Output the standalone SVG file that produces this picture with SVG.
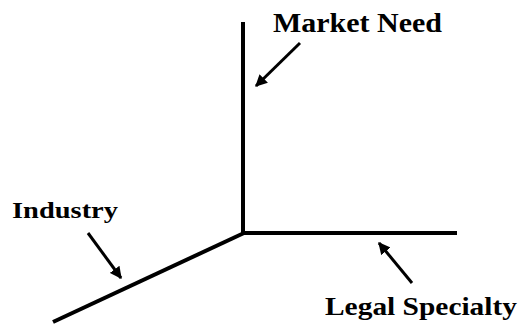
<svg xmlns="http://www.w3.org/2000/svg" width="520" height="326" viewBox="0 0 520 326">
<style>
.axis{stroke:#000;stroke-width:4;fill:none;stroke-linecap:butt}
.ptr{stroke:#000;stroke-width:3;fill:none}
.lbl{font-family:"Liberation Serif","DejaVu Serif",serif;font-weight:bold;font-size:27px;fill:#000}
</style>
<defs>
<marker id="ah" viewBox="0 0 10 10" refX="9" refY="5" markerWidth="4" markerHeight="4" orient="auto" markerUnits="strokeWidth">
<path d="M0,0 L10,5 L0,10 z" fill="#000"/>
</marker>
</defs>
<rect width="520" height="326" fill="#fff"/>
<g id="connectors">
<line class="axis" x1="243" y1="22" x2="243" y2="235"/>
<line class="axis" x1="241" y1="233" x2="457" y2="233"/>
<line class="axis" x1="244" y1="233" x2="53" y2="322"/>
<line class="ptr" x1="300" y1="43" x2="256" y2="86" marker-end="url(#ah)"/>
<line class="ptr" x1="88" y1="233" x2="121" y2="278" marker-end="url(#ah)"/>
<line class="ptr" x1="412" y1="283" x2="379" y2="243" marker-end="url(#ah)"/>
</g>
<g id="market-need"><text class="lbl" x="273" y="32" textLength="169" lengthAdjust="spacingAndGlyphs">Market Need</text></g>
<g id="industry"><text class="lbl" x="12" y="218" textLength="106" lengthAdjust="spacingAndGlyphs" style="font-size:24px">Industry</text></g>
<g id="legal-specialty"><text class="lbl" x="325" y="315" textLength="192" lengthAdjust="spacingAndGlyphs" style="font-size:26px">Legal Specialty</text></g>
</svg>
